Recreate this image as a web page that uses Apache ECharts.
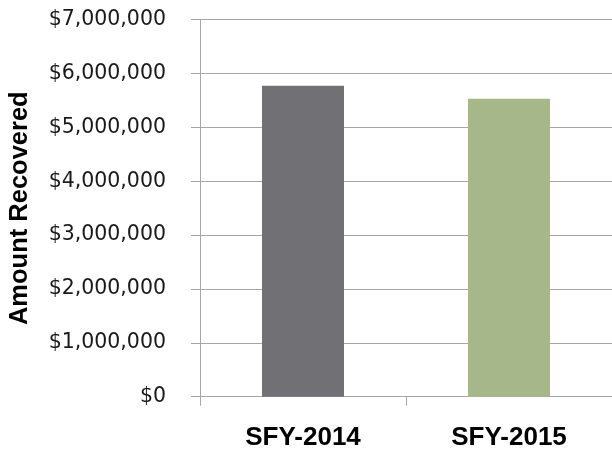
<!DOCTYPE html>
<html>
<head>
<meta charset="utf-8">
<script src="https://cdn.jsdelivr.net/npm/echarts@6/dist/echarts.min.js"></script>
<style>
html,body{margin:0;padding:0;background:#fff;}
#c{width:612px;height:453px;}
</style>
</head>
<body>
<div id="c"></div>
<script>
var categories = ['SFY-2014', 'SFY-2015'];
var amounts = [5775000, 5533000];
var barColors = ['#717075', '#a6b78a'];
var yTicks = [0, 1000000, 2000000, 3000000, 4000000, 5000000, 6000000, 7000000];

var chart = echarts.init(document.getElementById('c'), null, {renderer: 'canvas'});
chart.setOption({
  animation: false,
  backgroundColor: '#ffffff',
  grid: {left: 200, right: 0, top: 19.7, bottom: 56.3, containLabel: false, outerBoundsMode: 'none'},
  xAxis: {
    type: 'category',
    data: categories,
    axisLine: {show: true, lineStyle: {color: '#a6a6a6', width: 1}},
    axisTick: {show: true, length: 9, lineStyle: {color: '#a6a6a6'}},
    axisLabel: {
      margin: 28,
      fontFamily: 'Liberation Sans',
      fontWeight: 'bold',
      fontSize: 26,
      color: '#000000'
    }
  },
  yAxis: {
    type: 'value',
    min: yTicks[0],
    max: yTicks[yTicks.length - 1],
    interval: 1000000,
    name: 'Amount Recovered',
    nameLocation: 'middle',
    nameRotate: 90,
    nameGap: 167,
    nameTextStyle: {
      fontFamily: 'Liberation Sans',
      fontWeight: 'bold',
      fontSize: 25.5,
      color: '#000000'
    },
    axisLine: {show: true, lineStyle: {color: '#a6a6a6', width: 1}},
    axisTick: {show: true, length: 9, lineStyle: {color: '#a6a6a6'}},
    splitLine: {show: true, lineStyle: {color: '#a6a6a6', width: 1}},
    axisLabel: {
      margin: 34,
      fontFamily: 'DejaVu Sans',
      fontSize: 20.5,
      color: '#1a1a1a',
      formatter: function (v) { return '$' + v.toLocaleString('en-US'); }
    }
  },
  series: [{
    type: 'bar',
    barWidth: 82,
    data: amounts.map(function (v, i) {
      return {value: v, itemStyle: {color: barColors[i]}};
    })
  }]
});
</script>
</body>
</html>
